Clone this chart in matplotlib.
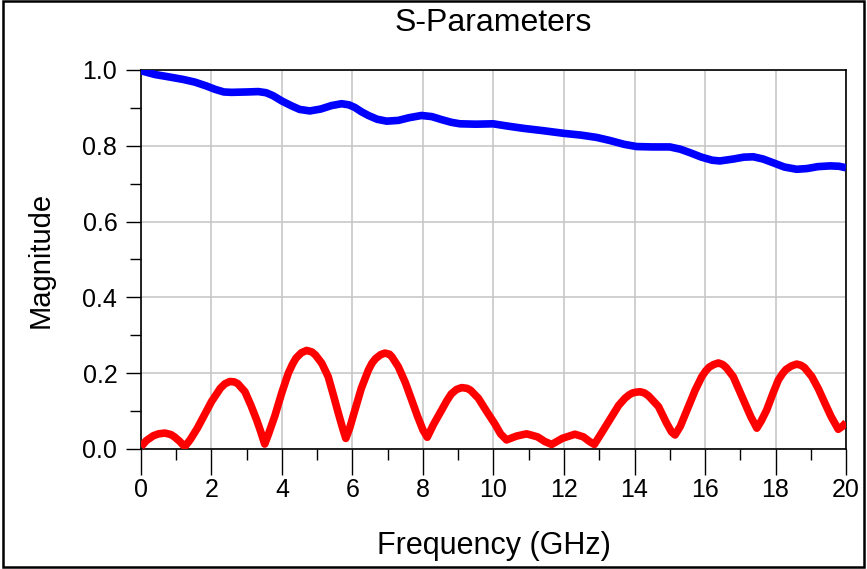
import matplotlib
matplotlib.use("Agg")

import matplotlib.pyplot as plt
from matplotlib.patches import Rectangle
from matplotlib.ticker import MultipleLocator, FormatStrFormatter


# =========================
# DATA
# =========================

s21_freq = [
    0.0, 0.4, 0.78, 1.2, 1.53, 1.85, 2.10, 2.35, 2.57, 3.0, 3.33, 3.55,
    3.75, 4.0, 4.28, 4.5, 4.79, 5.1, 5.4, 5.69, 5.9, 6.07, 6.25, 6.45,
    6.7, 6.97, 7.3, 7.6, 7.96, 8.25, 8.53, 8.8, 9.05, 9.5, 9.99, 10.4,
    10.85, 11.4, 11.98, 12.5, 12.93, 13.3, 13.7, 14.06, 14.5, 15.0, 15.3,
    15.57, 15.9, 16.2, 16.42, 16.8, 17.1, 17.37, 17.65, 17.94, 18.25,
    18.6, 18.9, 19.2, 19.55, 19.8, 20.0
]

s21_mag = [
    0.998, 0.988, 0.982, 0.975, 0.968, 0.958, 0.949, 0.942, 0.941, 0.942,
    0.943, 0.940, 0.932, 0.918, 0.905, 0.896, 0.892, 0.897, 0.906, 0.911,
    0.908, 0.901, 0.890, 0.880, 0.870, 0.865, 0.867, 0.874, 0.880, 0.877,
    0.869, 0.862, 0.858, 0.857, 0.858, 0.852, 0.846, 0.840, 0.833, 0.828,
    0.822, 0.814, 0.804, 0.798, 0.797, 0.797, 0.791, 0.782, 0.770, 0.762,
    0.760, 0.765, 0.770, 0.771, 0.765, 0.755, 0.744, 0.738, 0.740, 0.745,
    0.747, 0.746, 0.742
]

s11_freq = [
    0.0, 0.15, 0.35, 0.5, 0.68, 0.85, 0.95, 1.1, 1.24,
    1.40, 1.6, 1.8, 2.0, 2.15, 2.25, 2.38, 2.52, 2.65, 2.75, 2.95, 3.12,
    3.28, 3.40, 3.51,
    3.62, 3.80, 4.0, 4.18, 4.30, 4.40, 4.55, 4.70, 4.85, 4.95, 5.13, 5.31,
    5.45, 5.60, 5.72, 5.81,
    5.92, 6.07, 6.25, 6.45, 6.55, 6.65, 6.80, 6.92, 7.05, 7.12, 7.30, 7.50,
    7.68, 7.85, 8.00, 8.12,
    8.30, 8.53, 8.68, 8.80, 8.95, 9.10, 9.25, 9.35, 9.57, 9.80, 10.04,
    10.20, 10.37,
    10.65, 10.94, 11.25, 11.45, 11.65, 11.95, 12.31, 12.55, 12.72, 12.86,
    13.05, 13.35, 13.55, 13.73, 13.85, 13.95, 14.05, 14.16, 14.28, 14.40,
    14.68, 14.90, 15.05, 15.15,
    15.30, 15.53, 15.72, 15.91, 16.02, 16.12, 16.25, 16.38, 16.50, 16.60,
    16.80, 16.97, 17.13, 17.30, 17.47,
    17.60, 17.75, 17.92, 18.08, 18.20, 18.30, 18.45, 18.60, 18.72, 18.82,
    19.03, 19.22, 19.40, 19.58, 19.78, 19.90, 20.0
]

s11_mag = [
    0.006, 0.022, 0.035, 0.040, 0.042, 0.038, 0.032, 0.020, 0.006,
    0.025, 0.055, 0.090, 0.125, 0.146, 0.160, 0.172, 0.178, 0.177, 0.172,
    0.151, 0.115, 0.077, 0.045, 0.013,
    0.040, 0.088, 0.150, 0.200, 0.224, 0.240, 0.254, 0.260, 0.256, 0.248,
    0.226, 0.191, 0.145, 0.094, 0.055, 0.028,
    0.055, 0.103, 0.160, 0.208, 0.226, 0.238, 0.249, 0.253, 0.250, 0.243,
    0.217, 0.175, 0.129, 0.085, 0.050, 0.031,
    0.065, 0.103, 0.128, 0.145, 0.157, 0.162, 0.160, 0.155, 0.134, 0.100,
    0.066, 0.040, 0.024,
    0.034, 0.040, 0.032, 0.020, 0.012, 0.028, 0.039, 0.032, 0.020, 0.012,
    0.040, 0.085, 0.115, 0.134, 0.143, 0.148, 0.150, 0.151, 0.148, 0.140,
    0.112, 0.070, 0.045, 0.037,
    0.060, 0.112, 0.155, 0.191, 0.206, 0.216, 0.223, 0.227, 0.223, 0.215,
    0.191, 0.155, 0.121, 0.085, 0.055,
    0.075, 0.103, 0.145, 0.182, 0.199, 0.210, 0.219, 0.224, 0.221, 0.215,
    0.191, 0.158, 0.121, 0.085, 0.052, 0.060, 0.070
]


# =========================
# FIGURE
# =========================

plt.rcParams["font.family"] = ["Liberation Sans", "DejaVu Sans"]

fig = plt.figure(figsize=(8.67, 5.69), dpi=100)

ax = fig.add_axes([0.1626, 0.2109, 0.8132, 0.6661])

ax.plot(s21_freq, s21_mag, color="#0000ff", linewidth=5.5,
        solid_joinstyle="round", solid_capstyle="butt", zorder=3)

ax.plot(s11_freq, s11_mag, color="#ff0000", linewidth=5.5,
        solid_joinstyle="round", solid_capstyle="butt", zorder=3)


# =========================
# AXES STYLE
# =========================

ax.set_xlim(0, 20)
ax.set_ylim(0, 1.0)

ax.xaxis.set_major_locator(MultipleLocator(2))
ax.xaxis.set_minor_locator(MultipleLocator(1))
ax.yaxis.set_major_locator(MultipleLocator(0.2))
ax.yaxis.set_minor_locator(MultipleLocator(0.1))
ax.yaxis.set_major_formatter(FormatStrFormatter("%.1f"))

ax.grid(True, which="major", color="#c8c8c8", linewidth=1.2)
ax.set_axisbelow(True)

ax.tick_params(axis="x", which="major", direction="out", length=19,
               width=1, labelsize=18, pad=2)
ax.tick_params(axis="x", which="minor", direction="out", length=8, width=1)
ax.tick_params(axis="y", which="major", direction="out", length=11,
               width=1, labelsize=18, pad=6)
ax.tick_params(axis="y", which="minor", direction="out", length=8, width=1)

for spine in ax.spines.values():
    spine.set_linewidth(1.2)
    spine.set_color("black")

ax.set_title("S-Parameters", fontsize=23, pad=28)
ax.set_xlabel("Frequency (GHz)", fontsize=22, labelpad=21)
ax.set_ylabel("Magnitude", fontsize=21, labelpad=20)

# outer frame around the whole picture
fig.patches.append(Rectangle((0.004, 0.003), 0.992, 0.995,
                             transform=fig.transFigure, fill=False,
                             edgecolor="black", linewidth=1.8))

fig.savefig("out.png", dpi=100)
